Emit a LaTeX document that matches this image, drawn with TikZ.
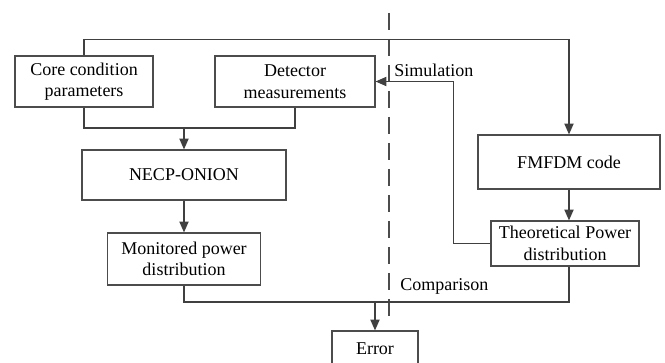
\documentclass[tikz,border=0pt]{standalone}
\usepackage{fontspec}
\setmainfont{Liberation Serif}
\usetikzlibrary{arrows.meta,calc}
\tikzset{
	block/.style={rectangle,draw=black!70,line width=0.6pt,fill=white,align=center,inner sep=2pt,font=\fontsize{9}{10.8}\selectfont},
	edge/.style={color=black!75, line width=0.6pt},
	diredge/.style={-{Triangle[width=4.6pt,length=5.4pt]},color=black!75, line width=0.6pt},
	sepline/.style={color=black!70, line width=1pt, dash pattern=on 8.5pt off 4.5pt},
	sidelabel/.style={anchor=west,inner sep=0pt,font=\fontsize{9}{10.8}\selectfont}
}
\begin{document}
\begin{tikzpicture}[x=0.5pt,y=-0.5pt]
				\useasboundingbox (0,0) rectangle (665,363);
				%%%left side
				\node[block,minimum width=69pt,minimum height=25.5pt] (core) at (84,81.5) {Core condition\\parameters};
				\node[block,minimum width=80pt,minimum height=25.5pt] (det) at (295,81.5) {Detector\\measurements};
				\node[block,minimum width=102pt,minimum height=25pt] (necp) at (184,175) {NECP-ONION};
				\node[block,minimum width=76.5pt,minimum height=26pt] (mon) at (184,259) {Monitored power\\distribution};
				
				%%%right side
				\node[block,minimum width=91pt,minimum height=27pt] (fmfdm) at (569,162) {FMFDM code};
				\node[block,minimum width=74pt,minimum height=22.5pt] (theo) at (565,243.5) {Theoretical Power\\distribution};
				\node[block,minimum width=43pt,minimum height=18pt] (err) at (375,349) {Error};
				
				\coordinate (join) at (184,128);
				\coordinate (cmp) at (375,302);
				\coordinate (dtop) at (389,13);
				\coordinate (dbot) at (389,317);
				
				\draw[sepline] (dtop) -- (dbot);
				
				\draw[diredge] (core.north) -- ++(0,-16) -| (fmfdm.north);
				\draw[edge] (core.south) |- (join) -| (det.south);
				\draw[diredge] (join) -- (necp);
				\draw[diredge] (necp) -- (mon);
				\draw[diredge] (fmfdm) -- (fmfdm |- theo.north);
				\draw[diredge] (theo.west) -- ++(-37,0) |- (det.east);
				\draw[edge] (mon.south) |- (cmp) -| (fmfdm |- theo.south);
				\draw[diredge] (cmp) -- (err);
				
				\node[sidelabel] (sim) at (394,70) {Simulation};
				\node[sidelabel] (comp) at (400,286) {Comparison};
\end{tikzpicture}
\end{document}
